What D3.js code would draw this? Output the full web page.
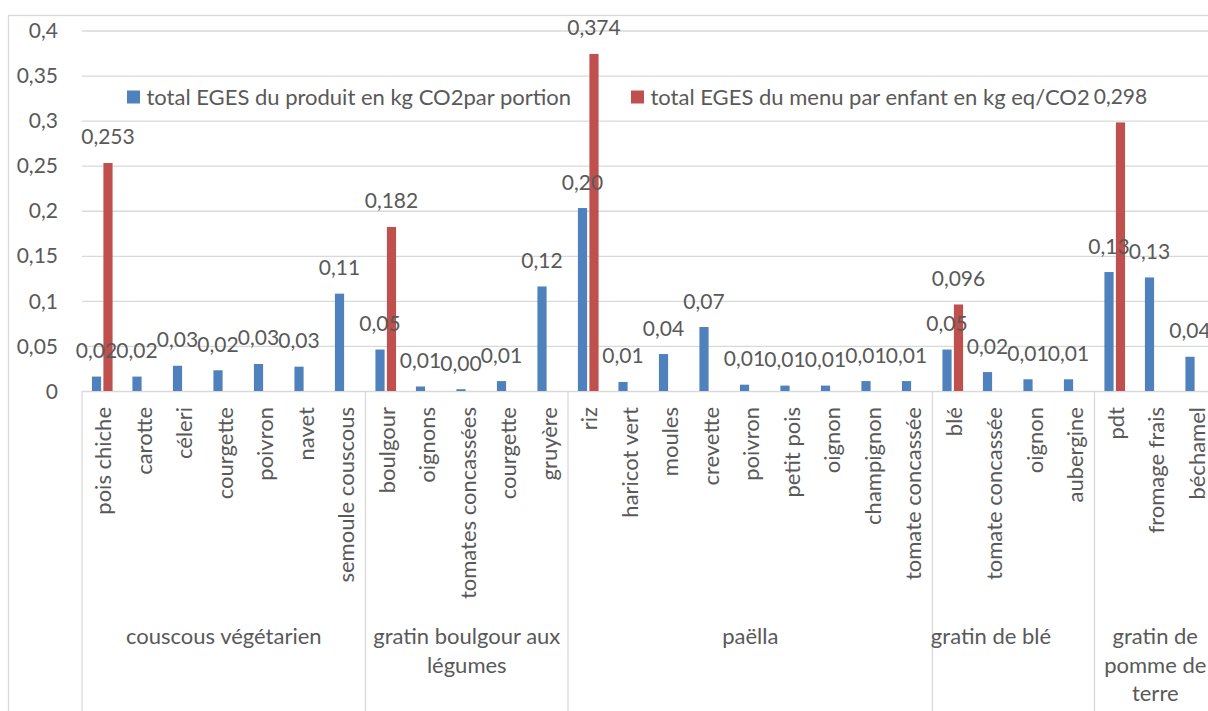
<!DOCTYPE html>
<html lang="fr">
<head>
<meta charset="utf-8">
<script src="https://cdn.jsdelivr.net/npm/d3@7"></script>
<style>
  html, body { margin: 0; padding: 0; background: #fff; }
  svg { display: block; font-family: Lato, "Open Sans", sans-serif; }
  text { fill: #595959; font-size: 22px; }
  text.num { font-size: 21px; }
</style>
</head>
<body>
<script>
// Ingredients (first-level categories), in menu order
const categories = [
  "pois chiche", "carotte", "céleri", "courgette", "poivron", "navet", "semoule couscous",
  "boulgour", "oignons", "tomates concassées", "courgette", "gruyère",
  "riz", "haricot vert", "moules", "crevette", "poivron", "petit pois", "oignon", "champignon", "tomate concassée",
  "blé", "tomate concassée", "oignon", "aubergine",
  "pdt", "fromage frais", "béchamel"
];
// Menu index of each ingredient
const categoryMenu = [
  0, 0, 0, 0, 0, 0, 0,
  1, 1, 1, 1, 1,
  2, 2, 2, 2, 2, 2, 2, 2, 2,
  3, 3, 3, 3,
  4, 4, 4
];
// Menus (second-level categories), already split into lines
const menuLabels = [
  ["couscous végétarien"],
  ["gratin boulgour aux", "légumes"],
  ["paëlla"],
  ["gratin de blé\u00a0\u00a0\u00a0\u00a0\u00a0\u00a0\u00a0\u00a0"],
  ["gratin de", "pomme de", "terre"]
];
// total EGES du produit en kg CO2 par portion
const produitValues = [
  0.016, 0.016, 0.028, 0.023, 0.030, 0.027, 0.108,
  0.046, 0.005, 0.002, 0.011, 0.116,
  0.203, 0.010, 0.041, 0.071, 0.007, 0.006, 0.006, 0.011, 0.011,
  0.046, 0.021, 0.013, 0.013,
  0.132, 0.126, 0.038
];
// total EGES du menu par enfant en kg eq/CO2 (given on the first ingredient of each menu)
const menuValues = [
  0.253, null, null, null, null, null, null,
  0.182, null, null, null, null,
  0.374, null, null, null, null, null, null, null, null,
  0.096, null, null, null,
  0.298, null, null
];
const seriesNames = [
  "total EGES du produit en kg CO2par portion",
  "total EGES du menu par enfant en kg eq/CO2"
];
const seriesColors = ["#4F81BD", "#C0504D"];
const yTicks = [0, 0.05, 0.1, 0.15, 0.2, 0.25, 0.3, 0.35, 0.4];

const W = 1208, H = 711;
const plot = { left: 82, right: 1216, top: 30.5, bottom: 391 };
const grid = "#d9d9d9";

const fr = d3.formatLocale({ decimal: ",", thousands: "\u00a0", grouping: [3], currency: ["", " €"] });
const fmtTick = fr.format("~g");
const fmtProduit = fr.format(".2f");
const fmtMenu = fr.format(".3f");

const svg = d3.select("body").append("svg")
  .attr("width", W).attr("height", H)
  .attr("viewBox", `0 0 ${W} ${H}`);

// chart frame
svg.append("rect")
  .attr("x", 8.5).attr("y", 15.5)
  .attr("width", W + 20).attr("height", H + 20)
  .attr("fill", "none").attr("stroke", grid).attr("stroke-width", 1.3);

const idx = d3.range(categories.length);
const x0 = d3.scaleBand().domain(idx).range([plot.left, plot.right]).padding(0);
const bw = x0.bandwidth();
const x1 = d3.scaleBand().domain([0, 1]).range([bw * 0.245, bw * 0.755]).paddingInner(0.2);
const y = d3.scaleLinear().domain([0, 0.4]).range([plot.bottom, plot.top]);

// value axis with gridlines
const yAxis = svg.append("g")
  .attr("transform", `translate(${plot.left},0)`)
  .call(d3.axisLeft(y).tickValues(yTicks).tickFormat(fmtTick)
    .tickSizeInner(-(plot.right - plot.left)).tickSizeOuter(0).tickPadding(24));
yAxis.select(".domain").remove();
yAxis.selectAll(".tick line").attr("stroke", grid).attr("stroke-width", 1.3);
yAxis.selectAll(".tick text")
  .attr("class", "num")
  .attr("fill", "#595959").attr("font-size", null)
  .attr("font-family", null).attr("dy", "0.34em");
yAxis.attr("font-size", null).attr("font-family", null);

// menu separators on the category axis
const bounds = [];
categoryMenu.forEach((m, i) => { if (i === 0 || m !== categoryMenu[i - 1]) bounds.push(i); });
svg.append("g").selectAll("line")
  .data(bounds)
  .join("line")
  .attr("x1", i => x0(i)).attr("x2", i => x0(i))
  .attr("y1", plot.bottom).attr("y2", H)
  .attr("stroke", grid).attr("stroke-width", 1.3);

// bars
const bars = svg.append("g");
bars.selectAll("rect.produit")
  .data(idx)
  .join("rect")
  .attr("class", "produit")
  .attr("x", i => x0(i) + x1(0))
  .attr("width", x1.bandwidth())
  .attr("y", i => y(produitValues[i]))
  .attr("height", i => y(0) - y(produitValues[i]))
  .attr("fill", seriesColors[0]);
bars.selectAll("rect.menu")
  .data(idx.filter(i => menuValues[i] != null))
  .join("rect")
  .attr("class", "menu")
  .attr("x", i => x0(i) + x1(1))
  .attr("width", x1.bandwidth())
  .attr("y", i => y(menuValues[i]))
  .attr("height", i => y(0) - y(menuValues[i]))
  .attr("fill", seriesColors[1]);

// data labels
const labels = svg.append("g").attr("text-anchor", "middle");
labels.selectAll("text.produit")
  .data(idx)
  .join("text")
  .attr("class", "num produit")
  .attr("x", i => x0(i) + x1(0) + x1.bandwidth() / 2)
  .attr("y", i => y(produitValues[i]) - 18.5)
  .text(i => fmtProduit(produitValues[i]));
labels.selectAll("text.menu")
  .data(idx.filter(i => menuValues[i] != null))
  .join("text")
  .attr("class", "num menu")
  .attr("x", i => x0(i) + x1(1) + x1.bandwidth() / 2)
  .attr("y", i => y(menuValues[i]) - 18.5)
  .text(i => fmtMenu(menuValues[i]));

// ingredient labels, rotated
svg.append("g").selectAll("text")
  .data(idx)
  .join("text")
  .attr("text-anchor", "end")
  .attr("transform", i => `translate(${x0(i) + bw / 2},407) rotate(-90)`)
  .attr("dy", "0.4em")
  .text(i => categories[i]);

// menu labels
const menuG = svg.append("g").attr("text-anchor", "middle");
menuLabels.forEach((lines, m) => {
  const members = idx.filter(i => categoryMenu[i] === m);
  const cx = (x0(members[0]) + x0(members[members.length - 1]) + bw) / 2;
  const t = menuG.append("text").attr("x", cx).attr("y", 644);
  lines.forEach((line, k) => {
    t.append("tspan").attr("x", cx).attr("dy", k === 0 ? 0 : 28.5).text(line);
  });
});

// legend
const legend = svg.append("g");
const legendX = [127, 631];
seriesNames.forEach((name, s) => {
  legend.append("rect")
    .attr("x", legendX[s]).attr("y", 90.5)
    .attr("width", 13).attr("height", 13)
    .attr("fill", seriesColors[s]);
  legend.append("text")
    .attr("x", legendX[s] + 19.5).attr("y", 104.5)
    .text(name);
});
</script>
</body>
</html>
